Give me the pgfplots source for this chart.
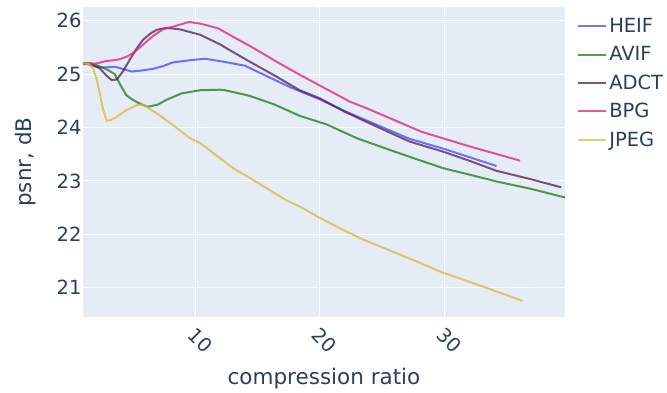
\documentclass[border=0pt]{standalone}
\usepackage{pgfplots}
\pgfplotsset{compat=1.18}
\usepackage{fontspec}
\setmainfont{DejaVu Sans}
\definecolor{plotbg}{HTML}{E5ECF6}
\definecolor{txt}{HTML}{2A3F5F}
\definecolor{cheif}{RGB}{70,70,255}
\definecolor{cavif}{RGB}{25,125,15}
\definecolor{cadct}{RGB}{85,30,85}
\definecolor{cbpg}{RGB}{225,30,120}
\definecolor{cjpeg}{RGB}{215,185,60}
\begin{document}
\begin{tikzpicture}
\path[use as bounding box] (-83pt,-75pt) rectangle (584pt,317pt);
\begin{axis}[
  at={(0pt,0pt)}, anchor=south west,
  scale only axis, width=482pt, height=310pt,
  xmin=1, xmax=39.7, ymin=20.45, ymax=26.26,
  xtick={10,20,30}, ytick={21,22,23,24,25,26},
  axis background/.style={fill=plotbg},
  axis line style={draw=none},
  tick style={draw=none},
  grid=major, major grid style={white, line width=1pt},
  /pgf/number format/assume math mode=true,
  ticklabel style={font=\fontsize{19.5}{22}\selectfont, text=txt},
  xticklabel style={rotate=-45, anchor=north west, xshift=4pt, yshift=-2pt},
  yticklabel style={xshift=2pt},
  xlabel={compression ratio}, ylabel={psnr, dB},
  label style={font=\fontsize{21.5}{24}\selectfont, text=txt},
  xlabel style={yshift=-6pt},
  ylabel style={yshift=14pt},
  legend style={at={(1.025,0.97)}, anchor=north west, draw=none, fill=none,
    font=\fontsize{19.5}{22}\selectfont, text=txt, row sep=8.5pt,
    inner sep=0pt, nodes={inner sep=2pt}},
  legend cell align=left,
  legend image code/.code={\draw[#1, line width=2pt, opacity=0.75] (0pt,0pt) -- (28pt,0pt);},
  every axis plot/.append style={line width=2pt, opacity=0.75},
]
\addplot[cheif] coordinates {(1,25.21) (1.7,25.17) (2.3,25.13) (3,25.13) (3.55,25.14) (4.2,25.1) (4.9,25.05) (5.7,25.07) (6.6,25.1) (7.4,25.15) (8.2,25.22) (9.5,25.26) (10.8,25.29) (12.4,25.23) (14,25.16) (15.8,24.96) (17.6,24.76) (20,24.53) (22,24.31) (24,24.11) (27.2,23.79) (30,23.6) (34.2,23.28)};
\addlegendentry{HEIF}
\addplot[cavif] coordinates {(1,25.21) (1.6,25.21) (2.3,25.15) (3,25.08) (3.55,25.0) (4,24.8) (4.5,24.6) (5,24.52) (5.55,24.45) (6.2,24.39) (7,24.43) (7.7,24.52) (8.9,24.64) (10.4,24.7) (12,24.71) (12.4,24.7) (14.3,24.6) (16.3,24.44) (18.4,24.22) (20.55,24.06) (23,23.8) (24.8,23.65) (27,23.47) (29.9,23.24) (32,23.12) (34.2,22.99) (37,22.85) (39.7,22.69)};
\addlegendentry{AVIF}
\addplot[cadct] coordinates {(1,25.21) (1.7,25.18) (2.35,25.11) (2.9,24.97) (3.3,24.89) (3.7,24.9) (4.2,25.05) (4.75,25.27) (5.3,25.48) (5.8,25.64) (6.4,25.76) (6.9,25.83) (7.7,25.87) (8.8,25.84) (10.4,25.74) (12,25.56) (12.5,25.49) (14.5,25.22) (16.5,24.96) (18.4,24.7) (20,24.55) (22,24.3) (24,24.08) (27.2,23.74) (29.9,23.55) (32,23.38) (34.2,23.19) (37,23.03) (39.4,22.88)};
\addlegendentry{ADCT}
\addplot[cbpg] coordinates {(1,25.19) (2,25.2) (2.4,25.22) (2.9,25.25) (3.4,25.26) (3.95,25.28) (4.5,25.33) (5,25.39) (5.5,25.49) (6.1,25.61) (6.7,25.73) (7.4,25.84) (8.5,25.91) (9.5,25.98) (10.4,25.95) (11.85,25.86) (13.3,25.67) (14.7,25.49) (16.5,25.24) (18.4,24.99) (20.4,24.74) (22.4,24.49) (24,24.34) (26,24.14) (28.2,23.92) (32,23.65) (36.1,23.38)};
\addlegendentry{BPG}
\addplot[cjpeg] coordinates {(1,25.21) (1.5,25.19) (1.8,25.12) (2.1,24.9) (2.35,24.64) (2.6,24.35) (2.9,24.13) (3.3,24.15) (3.7,24.2) (4.5,24.33) (5.3,24.42) (5.8,24.43) (6.1,24.39) (6.9,24.27) (8.2,24.05) (9.6,23.8) (10.4,23.71) (11.7,23.48) (13.05,23.24) (14.65,23.02) (17.3,22.64) (18.4,22.52) (20,22.31) (21.9,22.08) (23.5,21.9) (25.6,21.7) (27.8,21.49) (29.9,21.28) (33,21.03) (36.3,20.75)};
\addlegendentry{JPEG}
\end{axis}
\end{tikzpicture}
\end{document}
